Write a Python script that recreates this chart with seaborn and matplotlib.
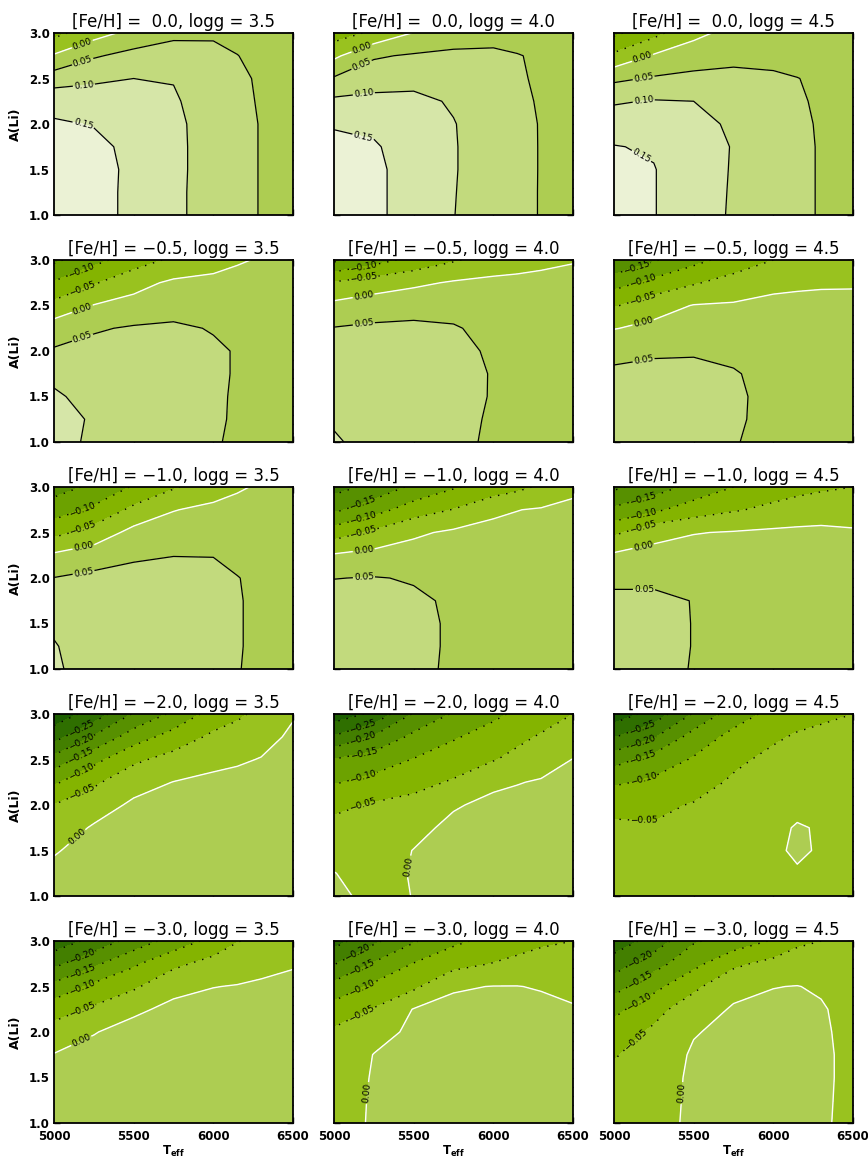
import numpy as np
import matplotlib
matplotlib.use("Agg")
import matplotlib.pyplot as plt
from matplotlib.ticker import MultipleLocator, FixedLocator
import seaborn as sns

# Grid of the abundance-correction tables
TEFF = [5000, 5250, 5500, 5750, 6000, 6150, 6300, 6500]
ALI = [1.0, 1.25, 1.5, 1.75, 2.0, 2.25, 2.5, 2.75, 3.0]
FEH = [0.0, -0.5, -1.0, -2.0, -3.0]
LOGG = [3.5, 4.0, 4.5]

# Corrections: one row per A(Li), one column per Teff
CORR_FEH00_G35 = [
    [0.180, 0.165, 0.140, 0.110, 0.080, 0.063, 0.048, 0.030],
    [0.180, 0.165, 0.140, 0.110, 0.080, 0.063, 0.048, 0.030],
    [0.178, 0.165, 0.141, 0.111, 0.080, 0.063, 0.048, 0.030],
    [0.170, 0.160, 0.140, 0.111, 0.080, 0.063, 0.048, 0.030],
    [0.155, 0.148, 0.130, 0.110, 0.080, 0.063, 0.048, 0.030],
    [0.135, 0.130, 0.120, 0.105, 0.078, 0.061, 0.046, 0.030],
    [0.075, 0.090, 0.100, 0.098, 0.075, 0.059, 0.044, 0.030],
    [0.005, 0.045, 0.065, 0.070, 0.065, 0.051, 0.037, 0.025],
    [-0.065, -0.020, 0.015, 0.040, 0.042, 0.035, 0.028, 0.020],
]
CORR_FEH00_G40 = [
    [0.175, 0.160, 0.130, 0.101, 0.075, 0.061, 0.048, 0.030],
    [0.175, 0.160, 0.130, 0.102, 0.075, 0.061, 0.048, 0.030],
    [0.172, 0.160, 0.130, 0.103, 0.076, 0.062, 0.048, 0.030],
    [0.165, 0.155, 0.128, 0.103, 0.076, 0.062, 0.048, 0.030],
    [0.145, 0.140, 0.125, 0.102, 0.075, 0.061, 0.048, 0.030],
    [0.110, 0.115, 0.112, 0.095, 0.072, 0.059, 0.046, 0.030],
    [0.055, 0.075, 0.085, 0.080, 0.065, 0.055, 0.044, 0.030],
    [-0.010, 0.045, 0.055, 0.058, 0.058, 0.052, 0.044, 0.028],
    [-0.075, -0.040, 0.002, 0.030, 0.035, 0.032, 0.028, 0.020],
]
CORR_FEH00_G45 = [
    [0.170, 0.152, 0.120, 0.095, 0.072, 0.059, 0.047, 0.030],
    [0.170, 0.152, 0.120, 0.096, 0.072, 0.059, 0.047, 0.030],
    [0.168, 0.152, 0.120, 0.097, 0.072, 0.059, 0.047, 0.030],
    [0.152, 0.145, 0.118, 0.098, 0.072, 0.059, 0.047, 0.030],
    [0.125, 0.125, 0.110, 0.095, 0.070, 0.058, 0.046, 0.030],
    [0.095, 0.103, 0.100, 0.085, 0.065, 0.055, 0.044, 0.030],
    [0.040, 0.055, 0.065, 0.065, 0.058, 0.051, 0.042, 0.028],
    [-0.040, 0.005, 0.020, 0.035, 0.035, 0.032, 0.028, 0.020],
    [-0.110, -0.065, -0.010, 0.012, 0.015, 0.015, 0.014, 0.010],
]
CORR_FEH05_G35 = [
    [0.110, 0.095, 0.080, 0.068, 0.053, 0.045, 0.038, 0.030],
    [0.110, 0.097, 0.080, 0.068, 0.055, 0.046, 0.038, 0.030],
    [0.103, 0.093, 0.080, 0.069, 0.056, 0.046, 0.038, 0.030],
    [0.095, 0.090, 0.080, 0.070, 0.057, 0.047, 0.038, 0.030],
    [0.055, 0.065, 0.070, 0.068, 0.057, 0.047, 0.038, 0.030],
    [0.025, 0.045, 0.055, 0.058, 0.047, 0.043, 0.038, 0.030],
    [-0.035, 0.002, 0.015, 0.030, 0.035, 0.035, 0.034, 0.028],
    [-0.095, -0.055, -0.015, 0.008, 0.010, 0.016, 0.020, 0.020],
    [-0.160, -0.115, -0.075, -0.040, -0.015, -0.005, 0.004, 0.010],
]
CORR_FEH05_G40 = [
    [0.105, 0.085, 0.070, 0.058, 0.045, 0.039, 0.033, 0.025],
    [0.095, 0.085, 0.072, 0.060, 0.046, 0.039, 0.033, 0.025],
    [0.090, 0.083, 0.072, 0.061, 0.048, 0.040, 0.033, 0.025],
    [0.085, 0.080, 0.072, 0.062, 0.048, 0.040, 0.033, 0.025],
    [0.072, 0.072, 0.068, 0.060, 0.045, 0.038, 0.031, 0.025],
    [0.052, 0.058, 0.058, 0.053, 0.040, 0.034, 0.028, 0.022],
    [0.012, 0.025, 0.035, 0.037, 0.032, 0.028, 0.024, 0.020],
    [-0.045, -0.025, -0.010, 0.005, 0.012, 0.012, 0.012, 0.010],
    [-0.160, -0.120, -0.085, -0.055, -0.030, -0.019, -0.010, -0.002],
]
CORR_FEH05_G45 = [
    [0.065, 0.063, 0.060, 0.051, 0.045, 0.039, 0.034, 0.030],
    [0.063, 0.062, 0.060, 0.053, 0.044, 0.039, 0.034, 0.030],
    [0.062, 0.062, 0.060, 0.054, 0.043, 0.038, 0.034, 0.030],
    [0.055, 0.058, 0.058, 0.052, 0.042, 0.037, 0.033, 0.028],
    [0.042, 0.046, 0.047, 0.044, 0.038, 0.034, 0.031, 0.027],
    [-0.002, 0.012, 0.022, 0.026, 0.026, 0.025, 0.024, 0.022],
    [-0.055, -0.020, 0.002, 0.005, 0.012, 0.013, 0.012, 0.008],
    [-0.120, -0.085, -0.055, -0.030, -0.012, -0.008, -0.005, -0.003],
    [-0.200, -0.155, -0.115, -0.080, -0.050, -0.041, -0.034, -0.028],
]
CORR_FEH10_G35 = [
    [0.105, 0.085, 0.075, 0.068, 0.058, 0.051, 0.045, 0.040],
    [0.102, 0.085, 0.075, 0.068, 0.060, 0.052, 0.044, 0.038],
    [0.095, 0.085, 0.076, 0.069, 0.061, 0.052, 0.044, 0.038],
    [0.085, 0.082, 0.076, 0.070, 0.062, 0.052, 0.044, 0.038],
    [0.051, 0.062, 0.068, 0.068, 0.060, 0.051, 0.043, 0.037],
    [0.008, 0.025, 0.042, 0.049, 0.049, 0.042, 0.037, 0.032],
    [-0.065, -0.030, 0.015, 0.025, 0.030, 0.030, 0.030, 0.028],
    [-0.125, -0.090, -0.038, -0.002, 0.012, 0.016, 0.018, 0.020],
    [-0.170, -0.140, -0.095, -0.055, -0.025, -0.006, 0.006, 0.010],
]
CORR_FEH10_G40 = [
    [0.075, 0.068, 0.058, 0.045, 0.038, 0.034, 0.031, 0.028],
    [0.074, 0.068, 0.058, 0.046, 0.038, 0.034, 0.031, 0.028],
    [0.072, 0.067, 0.058, 0.046, 0.038, 0.034, 0.031, 0.028],
    [0.068, 0.064, 0.056, 0.045, 0.037, 0.033, 0.030, 0.027],
    [0.049, 0.052, 0.047, 0.040, 0.033, 0.030, 0.027, 0.025],
    [0.005, 0.015, 0.020, 0.020, 0.018, 0.017, 0.016, 0.015],
    [-0.075, -0.040, -0.008, 0.008, 0.012, 0.014, 0.015, 0.015],
    [-0.160, -0.120, -0.075, -0.048, -0.008, -0.001, 0.004, 0.010],
    [-0.220, -0.185, -0.140, -0.105, -0.080, -0.062, -0.042, -0.010],
]
CORR_FEH10_G45 = [
    [0.070, 0.062, 0.048, 0.042, 0.036, 0.034, 0.032, 0.030],
    [0.070, 0.062, 0.049, 0.042, 0.036, 0.034, 0.032, 0.030],
    [0.068, 0.062, 0.049, 0.042, 0.036, 0.034, 0.032, 0.030],
    [0.060, 0.058, 0.049, 0.041, 0.035, 0.033, 0.031, 0.029],
    [0.040, 0.042, 0.040, 0.036, 0.032, 0.030, 0.029, 0.027],
    [0.008, 0.015, 0.020, 0.022, 0.022, 0.021, 0.021, 0.020],
    [-0.060, -0.015, -0.002, 0.003, 0.008, 0.009, 0.009, 0.005],
    [-0.140, -0.110, -0.075, -0.055, -0.038, -0.027, -0.020, -0.020],
    [-0.210, -0.175, -0.135, -0.100, -0.075, -0.066, -0.058, -0.050],
]
CORR_FEH20_G35 = [
    [0.025, 0.035, 0.040, 0.042, 0.044, 0.045, 0.045, 0.046],
    [0.012, 0.028, 0.036, 0.040, 0.042, 0.043, 0.044, 0.045],
    [-0.004, 0.018, 0.030, 0.036, 0.040, 0.041, 0.042, 0.044],
    [-0.027, 0.005, 0.022, 0.030, 0.035, 0.037, 0.039, 0.042],
    [-0.049, -0.022, 0.008, 0.020, 0.026, 0.028, 0.032, 0.038],
    [-0.108, -0.058, -0.018, 0.001, 0.010, 0.014, 0.019, 0.030],
    [-0.182, -0.115, -0.060, -0.032, -0.012, -0.006, 0.002, 0.020],
    [-0.270, -0.195, -0.125, -0.080, -0.040, -0.029, -0.016, 0.008],
    [-0.330, -0.280, -0.195, -0.140, -0.080, -0.059, -0.037, -0.004],
]
CORR_FEH20_G40 = [
    [0.010, -0.012, 0.001, 0.012, 0.018, 0.020, 0.023, 0.025],
    [0.001, -0.015, 0.003, 0.014, 0.020, 0.022, 0.024, 0.026],
    [-0.015, -0.020, 0.001, 0.014, 0.020, 0.022, 0.025, 0.027],
    [-0.035, -0.030, -0.012, 0.010, 0.018, 0.020, 0.023, 0.026],
    [-0.062, -0.045, -0.035, -0.004, 0.010, 0.014, 0.017, 0.022],
    [-0.104, -0.085, -0.065, -0.045, -0.008, -0.002, 0.004, 0.012],
    [-0.148, -0.125, -0.098, -0.075, -0.053, -0.036, -0.020, 0.001],
    [-0.245, -0.195, -0.138, -0.105, -0.080, -0.062, -0.045, -0.025],
    [-0.330, -0.290, -0.195, -0.145, -0.110, -0.092, -0.074, -0.050],
]
CORR_FEH20_G45 = [
    [-0.030, -0.030, -0.028, -0.024, -0.020, -0.015, -0.014, -0.015],
    [-0.035, -0.035, -0.030, -0.025, -0.014, -0.004, -0.008, -0.012],
    [-0.040, -0.040, -0.033, -0.027, -0.007, 0.006, -0.004, -0.010],
    [-0.045, -0.046, -0.038, -0.030, -0.009, 0.003, -0.003, -0.010],
    [-0.058, -0.060, -0.047, -0.035, -0.018, -0.010, -0.008, -0.012],
    [-0.108, -0.090, -0.070, -0.043, -0.028, -0.020, -0.016, -0.017],
    [-0.170, -0.130, -0.095, -0.060, -0.038, -0.030, -0.025, -0.024],
    [-0.253, -0.205, -0.130, -0.085, -0.057, -0.045, -0.038, -0.035],
    [-0.330, -0.280, -0.195, -0.125, -0.085, -0.068, -0.060, -0.050],
]
CORR_FEH30_G35 = [
    [0.030, 0.035, 0.038, 0.040, 0.042, 0.043, 0.044, 0.045],
    [0.022, 0.030, 0.035, 0.038, 0.040, 0.041, 0.042, 0.043],
    [0.013, 0.023, 0.030, 0.035, 0.038, 0.039, 0.040, 0.041],
    [0.002, 0.013, 0.022, 0.030, 0.034, 0.036, 0.037, 0.038],
    [-0.030, -0.002, 0.015, 0.022, 0.027, 0.030, 0.032, 0.034],
    [-0.072, -0.042, -0.008, 0.010, 0.016, 0.019, 0.022, 0.026],
    [-0.135, -0.088, -0.058, -0.012, -0.001, 0.002, 0.006, 0.012],
    [-0.213, -0.160, -0.108, -0.062, -0.032, -0.022, -0.012, -0.004],
    [-0.280, -0.235, -0.180, -0.130, -0.085, -0.052, -0.038, -0.025],
]
CORR_FEH30_G40 = [
    [-0.015, 0.004, 0.015, 0.022, 0.025, 0.025, 0.024, 0.022],
    [-0.018, 0.004, 0.016, 0.023, 0.026, 0.026, 0.025, 0.022],
    [-0.022, 0.003, 0.016, 0.023, 0.027, 0.027, 0.025, 0.022],
    [-0.030, 0.001, 0.014, 0.022, 0.026, 0.026, 0.024, 0.020],
    [-0.042, -0.015, 0.008, 0.018, 0.022, 0.022, 0.020, 0.014],
    [-0.080, -0.047, 0.002, 0.010, 0.014, 0.014, 0.011, 0.004],
    [-0.133, -0.090, -0.060, -0.004, 0.001, 0.001, -0.003, -0.012],
    [-0.203, -0.145, -0.098, -0.068, -0.048, -0.038, -0.030, -0.030],
    [-0.270, -0.210, -0.155, -0.110, -0.085, -0.070, -0.058, -0.050],
]
CORR_FEH30_G45 = [
    [-0.030, -0.015, 0.008, 0.015, 0.018, 0.017, 0.005, -0.010],
    [-0.035, -0.018, 0.008, 0.016, 0.019, 0.018, 0.006, -0.010],
    [-0.042, -0.022, 0.008, 0.016, 0.019, 0.018, 0.007, -0.010],
    [-0.053, -0.030, 0.006, 0.015, 0.018, 0.017, 0.007, -0.010],
    [-0.075, -0.042, -0.003, 0.012, 0.015, 0.014, 0.006, -0.012],
    [-0.115, -0.065, -0.025, 0.005, 0.009, 0.009, 0.004, -0.015],
    [-0.170, -0.115, -0.060, -0.015, -0.001, 0.001, -0.005, -0.020],
    [-0.225, -0.170, -0.115, -0.060, -0.035, -0.025, -0.025, -0.030],
    [-0.280, -0.230, -0.155, -0.130, -0.095, -0.060, -0.050, -0.045],
]

TABLES = [
    [CORR_FEH00_G35, CORR_FEH00_G40, CORR_FEH00_G45],
    [CORR_FEH05_G35, CORR_FEH05_G40, CORR_FEH05_G45],
    [CORR_FEH10_G35, CORR_FEH10_G40, CORR_FEH10_G45],
    [CORR_FEH20_G35, CORR_FEH20_G40, CORR_FEH20_G45],
    [CORR_FEH30_G35, CORR_FEH30_G40, CORR_FEH30_G45],
]

# Filled bands and their colours (dark green = strongly negative)
BAND_EDGES = [-0.45, -0.30, -0.25, -0.20, -0.15, -0.10, -0.05, 0.00, 0.05, 0.10, 0.15, 0.30]
BAND_COLORS = ["#1c5f00", "#2f6f00", "#437f00", "#579000", "#6ca200", "#84b400",
               "#99c21f", "#adcd52", "#c2da7d", "#d6e6a8", "#ebf2d5"]
LINE_LEVELS = [-0.30, -0.25, -0.20, -0.15, -0.10, -0.05, 0.00, 0.05, 0.10, 0.15]
# (row, column, level) of contours drawn without a value label
UNLABELLED = [(0, 2, -0.05), (1, 0, 0.10)]

sns.set_theme(style="ticks")
plt.rcParams.update({
    "font.family": ["DejaVu Sans"],
    "text.color": "black",
    "axes.labelcolor": "black",
    "xtick.color": "black",
    "ytick.color": "black",
    "axes.linewidth": 1.3,
    "axes.edgecolor": "black",
    "xtick.direction": "in",
    "ytick.direction": "in",
    "xtick.top": True,
    "ytick.right": True,
    "xtick.major.size": 4.0,
    "ytick.major.size": 4.0,
    "ytick.minor.size": 2.5,
    "xtick.minor.size": 2.5,
    "xtick.major.width": 1.0,
    "ytick.major.width": 1.0,
    "ytick.minor.width": 1.0,
    "axes.unicode_minus": True,
})

W, H = 868, 1158
COL_X = [54, 334, 614]
ROW_Y = [33, 260, 487, 714, 941]
AX_W, AX_H = 239, 182


def fmt_level(v):
    if abs(v) < 1e-9:
        v = 0.0
    return f"{v:.2f}".replace("-", "\u2212")


def label_point(ax, seg, xlim, ylim, offset_px=30.0):
    """Point a short way along a contour, starting from its left/bottom end."""
    pts = ax.transData.transform(seg)
    d = np.hypot(np.diff(pts[:, 0]), np.diff(pts[:, 1]))
    total = d.sum()
    closed = np.allclose(seg[0], seg[-1])
    if closed or total < 36:
        return None
    x_tol = (xlim[1] - xlim[0]) * 1e-3
    y_tol = (ylim[1] - ylim[0]) * 1e-3
    s0, s1 = seg[0], seg[-1]

    def score(p):
        if abs(p[0] - xlim[0]) < x_tol:
            return 0
        if abs(p[1] - ylim[0]) < y_tol:
            return 1
        return 2
    if score(s1) < score(s0) or (score(s1) == score(s0) and s1[0] < s0[0]):
        seg = seg[::-1]
        pts = pts[::-1]
        d = d[::-1]
    off = min(offset_px, 0.5 * total)
    cum = np.concatenate([[0], np.cumsum(d)])
    k = np.searchsorted(cum, off)
    k = min(max(k, 1), len(cum) - 1)
    f = (off - cum[k - 1]) / max(d[k - 1], 1e-9)
    f = min(max(f, 0), 1)
    return tuple(seg[k - 1] + f * (seg[k] - seg[k - 1]))


fig = plt.figure(figsize=(W / 100, H / 100), dpi=100)
T = np.array(TEFF, dtype=float)
A = np.array(ALI, dtype=float)

for i, feh in enumerate(FEH):
    for j, logg in enumerate(LOGG):
        Z = np.array(TABLES[i][j], dtype=float)
        ax = fig.add_axes([COL_X[j] / W, 1 - (ROW_Y[i] + AX_H) / H, AX_W / W, AX_H / H])
        ax.contourf(T, A, Z, levels=BAND_EDGES, colors=BAND_COLORS, antialiased=False)
        ax.set_xlim(5000, 6500)
        ax.set_ylim(1.0, 3.0)
        xlim, ylim = ax.get_xlim(), ax.get_ylim()

        for lev in LINE_LEVELS:
            if not (Z.min() < lev < Z.max()):
                continue
            if lev < -1e-9:
                col, ls, lw = "black", (0, (1, 5)), 1.0
            elif lev > 1e-9:
                col, ls, lw = "black", "solid", 0.9
            else:
                col, ls, lw = "white", "solid", 1.0
            cs = ax.contour(T, A, Z, levels=[lev], colors=[col], linestyles=[ls],
                            linewidths=[lw])
            if any(r == i and c == j and abs(v - lev) < 1e-9 for r, c, v in UNLABELLED):
                continue
            spots = []
            for seg in cs.allsegs[0]:
                if len(seg) < 2:
                    continue
                p = label_point(ax, seg, xlim, ylim)
                if p is not None:
                    spots.append(p)
            if spots:
                ax.clabel(cs, manual=spots, inline=True, inline_spacing=1,
                          fontsize=6.5, fmt=fmt_level, colors="black")

        title = f"[Fe/H] = {feh:4.1f}, logg = {logg:3.1f}".replace("-", "\u2212")
        ax.set_title(title, fontsize=12, pad=4, color="black")

        ax.xaxis.set_major_locator(FixedLocator([5000, 5500, 6000, 6500]))
        ax.yaxis.set_major_locator(FixedLocator([1.0, 1.5, 2.0, 2.5, 3.0]))
        ax.yaxis.set_minor_locator(MultipleLocator(0.1))
        ax.tick_params(which="both", direction="in", top=True, right=True,
                       labelsize=8.5)
        ax.tick_params(axis="y", pad=3)
        ax.tick_params(axis="x", pad=5)
        if j == 0:
            ax.set_yticklabels([f"{v:.1f}" for v in [1.0, 1.5, 2.0, 2.5, 3.0]],
                               fontweight="bold", fontsize=8.5)
            ax.set_ylabel("A(Li)", fontsize=9, fontweight="bold", labelpad=5)
        else:
            ax.set_yticklabels([])
        if i == len(FEH) - 1:
            ax.set_xticklabels([f"{v:d}" for v in [5000, 5500, 6000, 6500]],
                               fontweight="bold", fontsize=8.5)
            ax.set_xlabel(r"T$_{\mathbf{eff}}$", fontsize=8.5, fontweight="bold", labelpad=1)
        else:
            ax.set_xticklabels([])

fig.savefig("out.png", dpi=100)
